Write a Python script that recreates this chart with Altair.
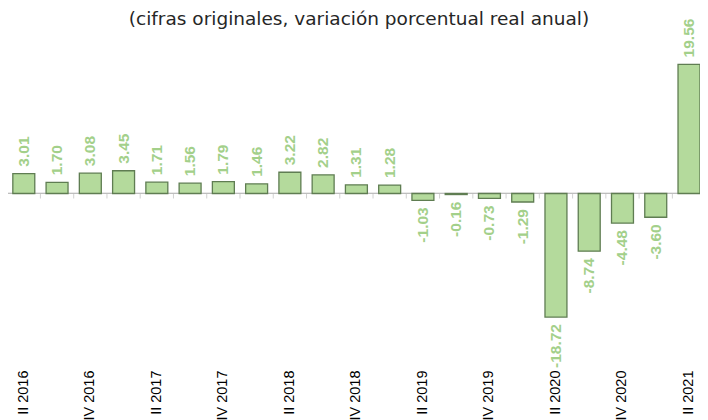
import altair as alt
import pandas as pd

quarters = ["II 2016", "III 2016", "IV 2016", "I 2017", "II 2017", "III 2017", "IV 2017",
            "I 2018", "II 2018", "III 2018", "IV 2018", "I 2019", "II 2019", "III 2019",
            "IV 2019", "I 2020", "II 2020", "III 2020", "IV 2020", "I 2021", "II 2021"]
values = [3.01, 1.70, 3.08, 3.45, 1.71, 1.56, 1.79, 1.46, 3.22, 2.82, 1.31, 1.28,
          -1.03, -0.16, -0.73, -1.29, -18.72, -8.74, -4.48, -3.60, 19.56]
axis_labels = ["II 2016", "IV 2016", "II 2017", "IV 2017", "II 2018", "IV 2018",
               "II 2019", "IV 2019", "II 2020", "IV 2020", "II 2021"]
title_text = "(cifras originales, variación porcentual real anual)"

df = pd.DataFrame({"q": quarters, "v": values})
df["label"] = [f"{v:.2f}" for v in values]
df["zero"] = 0.0
title_df = pd.DataFrame({"t": [title_text]})

GREEN_TXT = "#a3d08a"
BAR_FILL = "#b4da9c"
BAR_STROKE = "#5f7d52"
AXIS_GRAY = "#bfbfbf"

xscale = alt.Scale(domain=quarters, range=[-0.83, 697.63], paddingInner=0.34, paddingOuter=0.17)
yscale = alt.Scale(domain=[-26.14, 23.26], nice=False, zero=False)

x_axis = alt.Axis(values=axis_labels, labelAngle=270, labelFont="Liberation Sans",
                  labelFontSize=14.5, labelColor="#000000", labelPadding=4,
                  ticks=False, tickSize=0, domain=False, grid=False, title=None,
                  labelOverlap=False)

X = alt.X("q:N", scale=xscale, axis=x_axis)
Y = alt.Y("v:Q", scale=yscale, axis=None)
Y0 = alt.Y("zero:Q", scale=yscale, axis=None)

base = alt.Chart(df)

zero_line = base.mark_rule(color=AXIS_GRAY, strokeWidth=1).encode(y=Y0)

ticks = base.mark_tick(orient="vertical", size=5, thickness=1, color=AXIS_GRAY,
                       xOffset=-16.63, yOffset=2.5).encode(x=X, y=Y0)

bars = base.mark_bar(fill=BAR_FILL, stroke=BAR_STROKE, strokeWidth=1.3).encode(
    x=X, y=Y, y2="zero:Q",
)

pos_labels = base.transform_filter("datum.v >= 0").mark_text(
    angle=270, align="left", baseline="middle", dx=7,
    font="Liberation Sans", fontWeight="bold", fontSize=15.5, color=GREEN_TXT,
).encode(x=X, y=Y, text="label:N")

neg_labels = base.transform_filter("datum.v < 0").mark_text(
    angle=270, align="right", baseline="middle", dx=-7,
    font="Liberation Sans", fontWeight="bold", fontSize=15.5, color=GREEN_TXT,
).encode(x=X, y=Y, text="label:N")

title = alt.Chart(title_df).mark_text(
    font="DejaVu Sans", fontSize=18.5, color="#262626", align="center", baseline="middle",
).encode(x=alt.value(351), y=alt.value(-21), text="t:N")

chart = alt.layer(zero_line, ticks, bars, pos_labels, neg_labels, title).properties(
    width=692,
    height=326,
    autosize=alt.AutoSizeParams(type="none"),
    padding={"left": 0, "right": 0, "top": 32, "bottom": 54},
).configure_view(strokeWidth=0)

chart.save("out.html", embed_options={"renderer": "svg", "actions": False})
